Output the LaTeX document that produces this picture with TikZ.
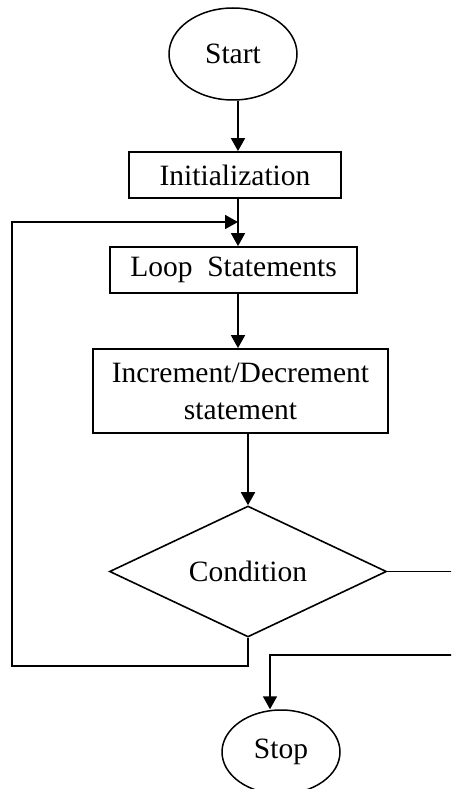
\documentclass[tikz,border=0pt]{standalone}
\usepackage{fontspec}
\setmainfont{Liberation Serif}
\usetikzlibrary{shapes.geometric,arrows.meta}
\begin{document}
\begin{tikzpicture}[x=1pt,y=-1pt,
  txt/.style={font=\fontsize{29.5}{37}\selectfont, align=center, inner sep=0pt},
  box/.style={txt,draw,line width=1.8pt,rectangle},
  term/.style={txt,draw,line width=1.5pt,ellipse},
  dec/.style={txt,draw,line width=1.6pt,diamond,aspect=2.1},
  arr/.style={line width=1.8pt,-{Triangle[length=13pt,width=14pt]}},
  plain/.style={line width=1.8pt}]
\useasboundingbox (0,0) rectangle (451,789);
\clip (0,0) rectangle (451,789);
\fill[white] (0,0) rectangle (451,789);
\node[term,minimum width=128pt,minimum height=92pt] (start) at (233,54) {Start};
\node[box,minimum width=212pt,minimum height=46pt] (init) at (235,175) {Initialization};
\node[box,minimum width=247pt,minimum height=46pt] (loop) at (233.5,270) {Loop\ \ Statements};
\node[box,minimum width=295pt,minimum height=84pt] (inc) at (240.5,391) {Increment/Decrement\\statement};
\node[dec,minimum width=277pt,minimum height=131pt] (cond) at (248,571.5) {Condition};
\node[term,minimum width=118pt,minimum height=84pt] (stop) at (281,752) {Stop};
\coordinate (xa) at (238,0);
\coordinate (join) at (238,222);
\coordinate (bl) at (12,666);
\coordinate (tl) at (12,222);
\coordinate (er) at (460,572);
\coordinate (sr) at (460,655);
\coordinate (sx) at (270,655);
\draw[arr] (start.south -| xa) -- (init.north -| xa);
\draw[arr] (init.south -| xa) -- (loop.north -| xa);
\draw[arr] (loop.south -| xa) -- (inc.north -| xa);
\draw[arr] (inc.south -| cond.north) -- (cond.north);
\draw[arr] (cond.south) -- (cond.south |- bl) -- (bl) -- (tl) -- (join);
\draw[plain] (cond.east) -- (cond.east -| er);
\draw[arr] (sr) -- (sx) -- (stop.north -| sx);
\end{tikzpicture}
\end{document}
